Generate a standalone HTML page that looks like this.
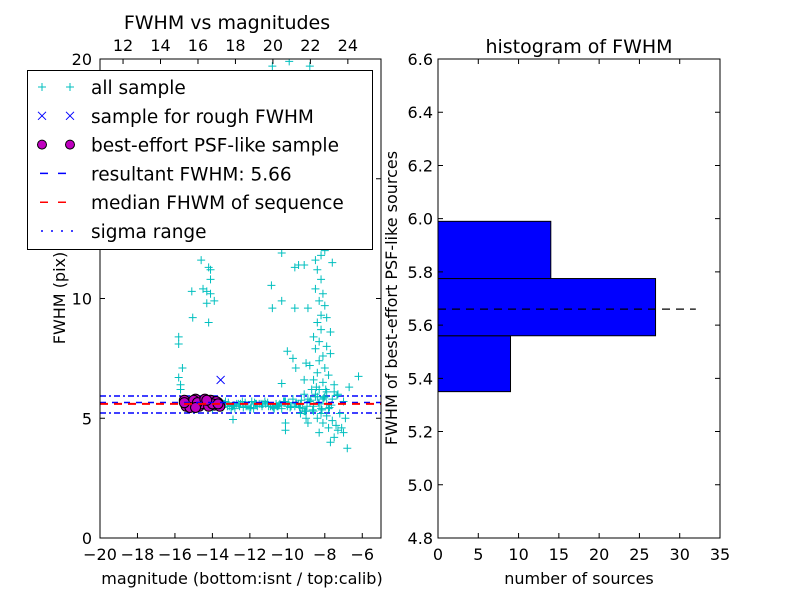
<!DOCTYPE html>
<html><head><meta charset="utf-8"><style>
body{margin:0;background:#fff;}
svg{display:block;font-family:"DejaVu Sans","Liberation Sans",sans-serif;}
</style></head><body>
<svg id="c" width="800" height="600" xmlns="http://www.w3.org/2000/svg"></svg>
<script>
// ---- data ----
const allSampleX = [-14.6,-14.2,-14.1,-14.1,-15.1,-14.5,-14.3,-14.1,-14.3,-13.9,-14.2,-15.05,-15.8,-15.8,-15.6,-15.8,-15.7,-15.7,
 -10.3,-9.6,-9.1,-10.85,-10.3,-10.8,-9.6,-8.9,-10.0,-9.7,-9.55,-9.0,-10.3,-9.1,-6.2,-6.7,-10.1,-10.1,-12.9,-6.8,
 -8.2,-8.0,-7.6,-8.5,-8.4,-8.2,-8.5,-8.1,-8.3,-8.0,-8.2,-7.9,-8.4,-8.2,-7.7,-8.6,-8.3,-7.9,-8.5,-8.1,-7.7,-8.3,-8.0,-8.4,-7.8,-8.6,-8.1,-7.5,-8.3,-7.9,-8.5,-7.3,-8.0,-7.6,-8.2,-7.9,-8.4,-7.6,-8.1,-7.4,-7.8,-7.3,-7.1,-8.3,-7.5,-7.0,-7.7,-8.6,-9.0,-9.3,-8.9,-8.7,-9.1,-8.8,-7.0,-7.2,-6.9,
 -10.8,-8.8,-9.9,-8.6,-8.2,-9.4,
 -15.5,-15.2,-14.9,-14.6,-14.3,-14.0,-13.7,-13.4,-13.1,-12.8,-12.5,-12.2,-11.9,-11.6,-11.3,-11.0,-10.7,-10.4,-10.1,-9.8,-9.5,-9.2,-8.9,-8.6,-8.3,
 -13.3,-13.0,-12.7,-12.4,-12.1,-11.8,-11.5,-11.2,-10.9,-10.6,-10.3,-10.0,-9.7,-9.4,-9.1,-8.8,-8.5,-8.2,-7.9,
 -13.2,-12.6,-12.0,-11.4,-10.8,-10.2,-9.6,-9.0,-8.4,-7.8,-7.5,-12.9,-11.7,-10.5,-9.3,-8.1,
 -13.45,-13.15,-12.85,-12.55,-12.25,-11.95,-11.65,-11.35,-11.05,-10.75,-10.45,-10.15,-9.85,-9.55,-9.25,-8.95,-8.65,-8.35,-8.05,-7.75,
 -13.35,-12.95,-12.35,-11.75,-11.15,-10.55,-9.95,-9.35,-8.75,-8.15,-7.65,-7.35,-7.95,-8.45,-9.05];
const allSampleY = [11.6,11.3,11.2,10.8,10.3,10.4,10.3,10.2,9.8,9.9,9.0,9.2,8.4,8.1,7.1,6.7,6.4,6.2,
 11.9,11.3,11.4,10.55,9.9,9.6,9.6,9.6,7.8,7.5,7.1,7.3,6.45,6.6,6.75,6.3,4.8,4.5,4.95,3.75,
 11.8,12.0,11.5,11.6,11.2,10.8,10.4,10.2,9.9,9.7,9.3,9.2,9.0,8.7,8.6,8.4,8.2,8.0,7.9,7.6,7.7,7.4,7.1,6.9,6.8,6.6,6.5,6.4,6.2,6.1,6.0,6.0,5.9,5.8,5.2,5.1,5.0,4.9,4.8,4.7,4.6,4.5,4.6,4.4,4.2,4.4,4.0,5.3,5.0,5.2,4.8,6.2,6.0,7.2,5.7,5.2,5.0,
 19.7,19.7,19.9,12.6,13.0,11.4,
 5.6,5.5,5.7,5.5,5.6,5.4,5.5,5.6,5.5,5.4,5.6,5.5,5.7,5.5,5.6,5.5,5.4,5.6,5.7,5.5,5.6,5.4,5.8,5.5,5.6,
 5.7,5.4,5.6,5.7,5.5,5.4,5.6,5.7,5.5,5.6,5.4,5.5,5.8,5.6,5.3,5.7,5.9,5.4,5.6,
 5.5,5.6,5.4,5.6,5.5,5.7,5.5,5.3,5.9,5.4,6.1,5.5,5.6,5.5,5.6,5.8,
 5.45,5.65,5.55,5.5,5.65,5.45,5.6,5.5,5.65,5.45,5.55,5.7,5.45,5.6,5.75,5.5,5.35,5.65,5.85,5.45,
 5.6,5.5,5.45,5.65,5.6,5.5,5.65,5.45,5.75,5.35,5.55,5.95,6.2,6.3,5.3];
const roughX = [-13.56];
const roughY = [6.6];
const psfX = [-15.5,-15.3,-15.1,-14.9,-14.7,-14.5,-14.3,-14.1,-13.9,-13.7,-15.4,-15.0,-14.6,-14.2,-13.8,-15.2,-14.8,-14.4,-14.0,-13.6,-15.5,-14.9,-14.3,-13.7];
const psfY = [5.75,5.55,5.65,5.8,5.5,5.7,5.6,5.75,5.55,5.65,5.5,5.75,5.6,5.5,5.7,5.45,5.65,5.8,5.6,5.5,5.65,5.45,5.75,5.6];
const resultFWHM = 5.66, medianFWHM = 5.6, sigmaLo = 5.22, sigmaHi = 5.93;
const histEdges = [5.35,5.56,5.775,5.99];
const histCounts = [9,27,14];
const xTicksL = [-20,-18,-16,-14,-12,-10,-8,-6];
const yTicksL = [0,5,10,15,20];
const topTicks = [12,14,16,18,20,22,24];
const yTicksR = [4.8,5.0,5.2,5.4,5.6,5.8,6.0,6.2,6.4,6.6];
const xTicksR = [0,5,10,15,20,25,30,35];

// ---- scales ----
const L={x0:100,x1:381,y0:538,y1:59,xmin:-20,xmax:-5,ymin:0,ymax:20};
const lx=v=>L.x0+(v-L.xmin)/(L.xmax-L.xmin)*(L.x1-L.x0);
const ly=v=>L.y0-(v-L.ymin)/(L.ymax-L.ymin)*(L.y0-L.y1);
const calibOffset=30.77;
const tx=v=>lx(v-calibOffset);
const R={x0:438,x1:720,y0:538,y1:59,xmin:0,xmax:35,ymin:4.8,ymax:6.6};
const rx=v=>R.x0+(v-R.xmin)/(R.xmax-R.xmin)*(R.x1-R.x0);
const ry=v=>R.y0-(v-R.ymin)/(R.ymax-R.ymin)*(R.y0-R.y1);

const svg=document.getElementById('c');
const NS='http://www.w3.org/2000/svg';
function mk(tag,attrs,parent){const e=document.createElementNS(NS,tag);for(const k in attrs)e.setAttribute(k,attrs[k]);(parent||svg).appendChild(e);return e;}
function txt(s,x,y,size,anchor,parent){const t=mk('text',{x:x,y:y,'font-size':size,'text-anchor':anchor||'middle',fill:'#000'},parent);t.textContent=s;return t;}
const fmt=v=>v<0?'\u2212'+Math.abs(v):String(v);

// ---- left axes ----
const gL=mk('g',{});


const clipL=mk('clipPath',{id:'cl'});mk('rect',{x:L.x0,y:L.y1,width:L.x1-L.x0,height:L.y0-L.y1},clipL);
const pts=mk('g',{'clip-path':'url(#cl)'},gL);
[sigmaLo,sigmaHi].forEach((v,i)=>{const l=mk('line',{x1:L.x0,x2:L.x1,y1:ly(v),y2:ly(v),stroke:'#0000ff','stroke-width':1.5,'stroke-dasharray':'6,3,2,3'},pts);

});
for(let i=0;i<allSampleX.length;i++){const x=lx(allSampleX[i]),y=ly(allSampleY[i]);
 const p=mk('path',{d:`M${x-4},${y}H${x+4}M${x},${y-4}V${y+4}`,stroke:'#00bfbf','stroke-width':1},pts);
 
 }
for(let i=0;i<psfX.length;i++){const c=mk('circle',{cx:lx(psfX[i]),cy:ly(psfY[i]),r:5,fill:'#bf00bf',stroke:'#000','stroke-width':1},pts);
 
 }
for(let i=0;i<roughX.length;i++){const x=lx(roughX[i]),y=ly(roughY[i]);
 const p=mk('path',{d:`M${x-4},${y-4}L${x+4},${y+4}M${x-4},${y+4}L${x+4},${y-4}`,stroke:'#0000ff','stroke-width':1},pts);
 
 }
const rl=mk('line',{x1:L.x0,x2:L.x1,y1:ly(resultFWHM),y2:ly(resultFWHM),stroke:'#0000ff','stroke-width':1.5,'stroke-dasharray':'6,6'},pts);


const ml=mk('line',{x1:L.x0,x2:L.x1,y1:ly(medianFWHM),y2:ly(medianFWHM),stroke:'#ff0000','stroke-width':2,'stroke-dasharray':'8,6'},pts);


mk('rect',{x:L.x0,y:L.y1,width:L.x1-L.x0,height:L.y0-L.y1,fill:'none',stroke:'#000','stroke-width':1},gL);
xTicksL.forEach(v=>{const x=lx(v);mk('path',{d:`M${x},${L.y0}v-5`,stroke:'#000'},gL);const t=txt(fmt(v),x,L.y0+22,16,'middle',gL);
 
 });
yTicksL.forEach(v=>{const y=ly(v);mk('path',{d:`M${L.x0},${y}h5M${L.x1},${y}h-5`,stroke:'#000'},gL);const t=txt(String(v),L.x0-8,y+6,16,'end',gL);
 
 });
topTicks.forEach(v=>{const x=tx(v);mk('path',{d:`M${x},${L.y1}v5`,stroke:'#000'},gL);const t=txt(String(v),x,L.y1-8,16,'middle',gL);
 
 });
let t=txt('FWHM vs magnitudes',227,29,19,'middle',gL);

t=txt('magnitude (bottom:isnt / top:calib)',242,584,16,'middle',gL);

t=txt('FWHM (pix)',0,0,16,'middle',gL);t.setAttribute('transform','translate(65,298) rotate(-90)');


// legend
const lg=mk('g',{});


mk('rect',{x:27.5,y:70.5,width:345,height:179,fill:'#fff',stroke:'#000'},lg);
const labels=['all sample','sample for rough FWHM','best-effort PSF-like sample','resultant FWHM: 5.66','median FHWM of sequence','sigma range'];
labels.forEach((s,i)=>{const y=87+i*28.8;
 const e=mk('g',{},lg);
 
 
 [42,70].forEach(x=>{
  if(i==0)mk('path',{d:`M${x-4},${y}H${x+4}M${x},${y-4}V${y+4}`,stroke:'#00bfbf'},e);
  if(i==1)mk('path',{d:`M${x-4},${y-4}L${x+4},${y+4}M${x-4},${y+4}L${x+4},${y-4}`,stroke:'#0000ff'},e);
  if(i==2)mk('circle',{cx:x,cy:y,r:4.5,fill:'#bf00bf',stroke:'#000'},e);});
 if(i==3)mk('line',{x1:40,x2:74,y1:y,y2:y,stroke:'#0000ff','stroke-width':1.5,'stroke-dasharray':'8,10'},e);
 if(i==4)mk('line',{x1:40,x2:74,y1:y,y2:y,stroke:'#ff0000','stroke-width':1.5,'stroke-dasharray':'8,10'},e);
 if(i==5)mk('line',{x1:41,x2:74,y1:y,y2:y,stroke:'#0000ff','stroke-width':1.5,'stroke-dasharray':'2,8'},e);
 txt(s,91,y+7,18.5,'start',e);});

// ---- right axes ----
const gR=mk('g',{});


for(let i=0;i<histCounts.length;i++){const r=mk('rect',{x:rx(0),y:ry(histEdges[i+1]),width:rx(histCounts[i])-rx(0),height:ry(histEdges[i])-ry(histEdges[i+1]),fill:'#0000ff',stroke:'#000','stroke-width':1},gR);
 
 }
const hl=mk('line',{x1:rx(0),x2:rx(32),y1:ry(resultFWHM),y2:ry(resultFWHM),stroke:'#000','stroke-width':1.3,'stroke-dasharray':'8,6'},gR);


mk('rect',{x:R.x0,y:R.y1,width:R.x1-R.x0,height:R.y0-R.y1,fill:'none',stroke:'#000'},gR);
xTicksR.forEach(v=>{const x=rx(v);mk('path',{d:`M${x},${R.y0}v-5M${x},${R.y1}v5`,stroke:'#000'},gR);const t=txt(String(v),x,R.y0+22,16,'middle',gR);
 
 });
yTicksR.forEach(v=>{const y=ry(v);mk('path',{d:`M${R.x0},${y}h5M${R.x1},${y}h-5`,stroke:'#000'},gR);const t=txt(v.toFixed(1),R.x0-5,y+6,16,'end',gR);
 
 });
t=txt('histogram of FWHM',579,53,19,'middle',gR);

t=txt('number of sources',579,584,16,'middle',gR);

t=txt('FWHM of best-effort PSF-like sources',0,0,16,'middle',gR);t.setAttribute('transform','translate(397,298) rotate(-90)');

</script>
</body></html>
